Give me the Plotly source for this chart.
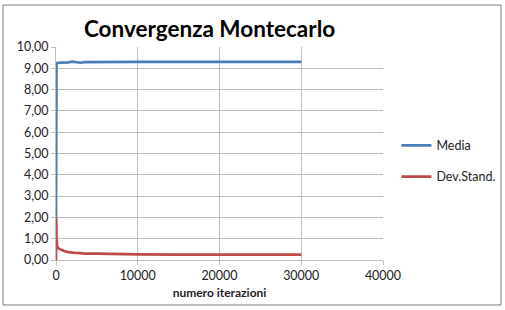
import plotly.graph_objects as go

iterazioni = [1, 20, 60, 120, 200, 400, 700, 1000, 1500, 2000, 2500, 3000, 3500, 5000, 6500, 7000, 10000, 15000, 20000, 25000, 30000]
media = [2.00, 9.20, 9.24, 9.25, 9.26, 9.26, 9.27, 9.27, 9.28, 9.31, 9.29, 9.26, 9.29, 9.30, 9.30, 9.30, 9.30, 9.30, 9.30, 9.30, 9.30]
dev_stand = [0.00, 2.00, 1.10, 0.70, 0.58, 0.52, 0.46, 0.42, 0.37, 0.34, 0.33, 0.32, 0.30, 0.30, 0.29, 0.26, 0.26, 0.25, 0.25, 0.25, 0.25]

FONT = "Lato"
fig = go.Figure()
fig.add_trace(go.Scatter(x=iterazioni, y=media, mode="lines", name="Media", legendgroup="a",
                         line=dict(color="#4A7EBB", width=2.7)))
fig.add_trace(go.Scatter(x=iterazioni, y=dev_stand, mode="lines", name="Dev.Stand.", legendgroup="b",
                         line=dict(color="#BE4B48", width=2.7)))

grid = "#BDBDBD"
fig.update_layout(
    width=505, height=310,
    margin=dict(l=56, r=122, t=47, b=50, autoexpand=False),
    paper_bgcolor="white", plot_bgcolor="white",
    separators=",.",
    font=dict(family=FONT, size=12, color="#222"),
    title=dict(text="<b>Convergenza Montecarlo</b>", x=0.415, xanchor="center",
               y=0.905, yanchor="middle", font=dict(family=FONT, size=22.5, color="#000")),
    showlegend=True,
    legend=dict(xref="container", yref="container", x=0.785, y=0.48,
                xanchor="left", yanchor="middle",
                font=dict(family=FONT, size=12.5, color="#222"),
                tracegroupgap=12, itemwidth=30, traceorder="grouped",
                bgcolor="rgba(0,0,0,0)"),
    xaxis=dict(range=[0, 40000], tickvals=[0, 10000, 20000, 30000, 40000],
               tickformat="d", showgrid=True, gridcolor=grid, gridwidth=1,
               showline=True, linecolor=grid, ticks="outside", ticklen=4, tickcolor=grid,
               zeroline=False, tickfont=dict(size=12.5, color="#222"), automargin=False,
               title=dict(text="<b>numero iterazioni</b>", font=dict(size=12, color="#222"), standoff=6)),
    yaxis=dict(range=[0, 10], dtick=1, tickformat=".2f", showgrid=True, gridcolor=grid,
               gridwidth=1, showline=True, linecolor=grid, ticks="outside", ticklen=4,
               tickcolor=grid, zeroline=False, tickfont=dict(size=12.5, color="#222"), automargin=False),
)
fig.add_shape(type="rect", xref="paper", yref="paper",
              x0=(3 - 56) / 327, x1=(501 - 56) / 327,
              y0=(260 - 305) / 213, y1=(260 - 5) / 213,
              line=dict(color="#7F7F7F", width=1), fillcolor="rgba(0,0,0,0)", layer="below")
fig.write_html("out.html")
